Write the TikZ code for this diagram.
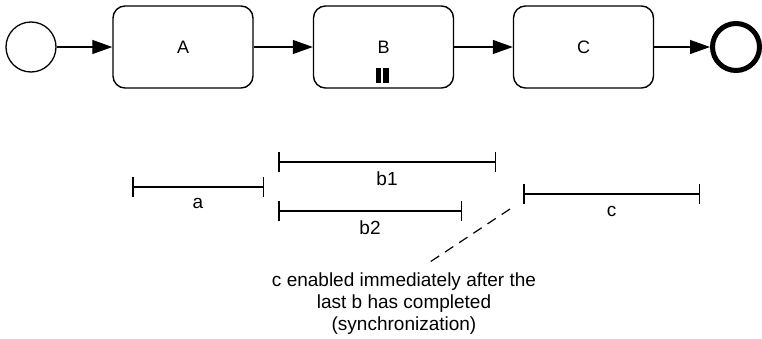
\documentclass[tikz,border=0pt]{standalone}
\usepackage{fontspec}
\setmainfont{Liberation Sans}
\usetikzlibrary{arrows.meta, positioning}

\begin{document}
\begin{tikzpicture}[x=1pt, y=-1pt,
        task/.style={draw, line width=1.4pt, rounded corners=12pt, minimum width=140pt, minimum height=82pt, font=\fontsize{18}{21}\selectfont},
        flow/.style={line width=1.3pt, -{Triangle[length=20pt, width=14pt]}},
        span/.style={line width=1.5pt, {Bar[width=20pt]}-{Bar[width=20pt]}},
        lbl/.style={font=\fontsize{19}{22}\selectfont}]
        \useasboundingbox (0,0) rectangle (762,339);
        % process
        \node[circle, draw, line width=1.3pt, minimum size=50pt] (start) at (31,47) {};
        \node[task] (A) at (183,47) {A};
        \node[task] (B) at (383.5,47) {B};
        \node[task] (C) at (583.5,47) {C};
        \node[circle, draw, line width=5pt, minimum size=47pt] (end) at (736,47) {};
        \draw[flow] (start) -- (A);
        \draw[flow] (A) -- (B);
        \draw[flow] (B) -- (C);
        \draw[flow] (C) -- (end);
        % parallel marker
        \fill (376,68) rectangle (381,83);
        \fill (383,68) rectangle (389,83);
        % execution spans
        \coordinate (a0) at (132,187);
        \coordinate (a1) at (264,187);
        \coordinate (b10) at (278,162);
        \coordinate (b11) at (496,162);
        \coordinate (b20) at (278,211);
        \coordinate (b21) at (462,211);
        \coordinate (c0) at (523,194);
        \coordinate (c1) at (700,194);
        \draw[span] (a0) -- node[below=7pt, lbl] {a} (a1);
        \draw[span] (b10) -- node[below=6pt, lbl] {b1} (b11);
        \draw[span] (b20) -- node[below=6pt, lbl] {b2} (b21);
        \draw[span] (c0) -- node[below=8pt, lbl] {c} (c1);
        % note
        \node[lbl, align=center] (note) at (404,304) {c enabled immediately after the\\last b has completed\\(synchronization)};
        \coordinate (tip) at (510,209);
        \coordinate (tail) at (430,262);
        \draw[line width=1.2pt, dash pattern=on 10pt off 7pt] (tip) -- (tail);
    \end{tikzpicture}
\end{document}
